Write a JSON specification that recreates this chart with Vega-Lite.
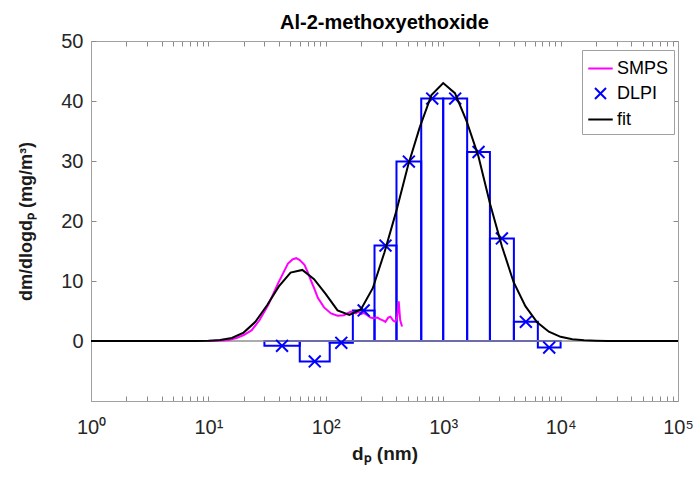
{
  "$schema": "https://vega.github.io/schema/vega-lite/v6.json",
  "width": 587,
  "height": 360,
  "autosize": {"type": "none"},
  "padding": {"left": 91, "top": 41, "right": 21, "bottom": 79},
  "background": "white",
  "title": {"text": "Al-2-methoxyethoxide", "fontSize": 20, "font": "Liberation Sans", "fontWeight": "bold", "color": "#000000", "offset": -2, "anchor": "middle"},
  "config": {"view": {"stroke": null}, "font": "Liberation Sans"},
  "datasets": {
    "smps": [
      {"d": 10, "v": 0.02, "series": "SMPS"}, {"d": 12, "v": 0.05, "series": "SMPS"}, {"d": 14.9, "v": 0.17, "series": "SMPS"},
      {"d": 17.4, "v": 0.5, "series": "SMPS"}, {"d": 20, "v": 1.0, "series": "SMPS"}, {"d": 23.4, "v": 1.8, "series": "SMPS"},
      {"d": 27.3, "v": 3.5, "series": "SMPS"}, {"d": 32.3, "v": 6.0, "series": "SMPS"}, {"d": 39.2, "v": 9.6, "series": "SMPS"},
      {"d": 47.6, "v": 12.9, "series": "SMPS"}, {"d": 52, "v": 13.6, "series": "SMPS"}, {"d": 56, "v": 13.8, "series": "SMPS"},
      {"d": 60, "v": 13.5, "series": "SMPS"}, {"d": 65.8, "v": 12.7, "series": "SMPS"}, {"d": 70, "v": 11.5, "series": "SMPS"},
      {"d": 75, "v": 10.0, "series": "SMPS"}, {"d": 80, "v": 8.7, "series": "SMPS"}, {"d": 85.5, "v": 7.2, "series": "SMPS"},
      {"d": 96.6, "v": 5.6, "series": "SMPS"}, {"d": 110.7, "v": 4.6, "series": "SMPS"}, {"d": 126, "v": 4.2, "series": "SMPS"},
      {"d": 142.5, "v": 4.3, "series": "SMPS"}, {"d": 163.4, "v": 4.9, "series": "SMPS"}, {"d": 180, "v": 4.6, "series": "SMPS"},
      {"d": 190.6, "v": 4.9, "series": "SMPS"}, {"d": 200, "v": 4.5, "series": "SMPS"}, {"d": 210, "v": 4.7, "series": "SMPS"},
      {"d": 226, "v": 4.3, "series": "SMPS"}, {"d": 240, "v": 3.9, "series": "SMPS"}, {"d": 257, "v": 3.8, "series": "SMPS"},
      {"d": 275, "v": 3.9, "series": "SMPS"}, {"d": 292, "v": 3.6, "series": "SMPS"}, {"d": 310, "v": 3.4, "series": "SMPS"},
      {"d": 322, "v": 3.2, "series": "SMPS"}, {"d": 340, "v": 3.9, "series": "SMPS"}, {"d": 355, "v": 4.05, "series": "SMPS"},
      {"d": 375, "v": 3.4, "series": "SMPS"}, {"d": 391, "v": 3.2, "series": "SMPS"}, {"d": 405, "v": 3.9, "series": "SMPS"},
      {"d": 418, "v": 6.6, "series": "SMPS"}, {"d": 430, "v": 3.5, "series": "SMPS"}, {"d": 446, "v": 2.4, "series": "SMPS"}
    ],
    "dlpi": [
      {"lo": 30, "hi": 60, "mid": 42.4, "v": -0.8, "series": "DLPI"},
      {"lo": 60, "hi": 108, "mid": 80.5, "v": -3.4, "series": "DLPI"},
      {"lo": 108, "hi": 170, "mid": 135.5, "v": -0.3, "series": "DLPI"},
      {"lo": 170, "hi": 260, "mid": 210.2, "v": 5.1, "series": "DLPI"},
      {"lo": 260, "hi": 400, "mid": 322.5, "v": 15.9, "series": "DLPI"},
      {"lo": 400, "hi": 650, "mid": 509.9, "v": 29.9, "series": "DLPI"},
      {"lo": 650, "hi": 1000, "mid": 806.2, "v": 40.4, "series": "DLPI"},
      {"lo": 1000, "hi": 1600, "mid": 1264.9, "v": 40.4, "series": "DLPI"},
      {"lo": 1600, "hi": 2500, "mid": 2000, "v": 31.5, "series": "DLPI"},
      {"lo": 2500, "hi": 4000, "mid": 3162, "v": 17.1, "series": "DLPI"},
      {"lo": 4000, "hi": 6400, "mid": 5060, "v": 3.2, "series": "DLPI"},
      {"lo": 6400, "hi": 10000, "mid": 8000, "v": -1.1, "series": "DLPI"}
    ],
    "fit": [
      {"d": 1, "v": 0, "series": "fit"}, {"d": 1.585, "v": 0, "series": "fit"}, {"d": 2.512, "v": 0, "series": "fit"},
      {"d": 3.981, "v": 0, "series": "fit"}, {"d": 5.012, "v": 0, "series": "fit"}, {"d": 6.31, "v": 0, "series": "fit"},
      {"d": 7.943, "v": 0.01, "series": "fit"}, {"d": 10, "v": 0.04, "series": "fit"}, {"d": 12.59, "v": 0.15, "series": "fit"},
      {"d": 15.85, "v": 0.51, "series": "fit"}, {"d": 19.95, "v": 1.41, "series": "fit"}, {"d": 25.12, "v": 3.19, "series": "fit"},
      {"d": 31.62, "v": 5.95, "series": "fit"}, {"d": 39.81, "v": 9.09, "series": "fit"}, {"d": 50.12, "v": 11.41, "series": "fit"},
      {"d": 63.1, "v": 11.85, "series": "fit"}, {"d": 79.43, "v": 10.3, "series": "fit"}, {"d": 100, "v": 7.8, "series": "fit"},
      {"d": 125.9, "v": 5.1, "series": "fit"}, {"d": 158.5, "v": 4.35, "series": "fit"}, {"d": 199.5, "v": 5.3, "series": "fit"},
      {"d": 251.2, "v": 8.8, "series": "fit"}, {"d": 316.2, "v": 14.8, "series": "fit"}, {"d": 398.1, "v": 21.6, "series": "fit"},
      {"d": 501.2, "v": 29.2, "series": "fit"}, {"d": 631, "v": 35.6, "series": "fit"}, {"d": 794.3, "v": 41.0, "series": "fit"},
      {"d": 1000, "v": 43.0, "series": "fit"}, {"d": 1259, "v": 41.3, "series": "fit"}, {"d": 1585, "v": 36.6, "series": "fit"},
      {"d": 1995, "v": 30.8, "series": "fit"}, {"d": 2512, "v": 22.8, "series": "fit"}, {"d": 3162, "v": 15.8, "series": "fit"},
      {"d": 3981, "v": 9.8, "series": "fit"}, {"d": 5012, "v": 5.8, "series": "fit"}, {"d": 6310, "v": 3.1, "series": "fit"},
      {"d": 7943, "v": 1.55, "series": "fit"}, {"d": 10000, "v": 0.7, "series": "fit"}, {"d": 12589, "v": 0.3, "series": "fit"},
      {"d": 15849, "v": 0.11, "series": "fit"}, {"d": 19953, "v": 0.04, "series": "fit"}, {"d": 25119, "v": 0.01, "series": "fit"},
      {"d": 39811, "v": 0, "series": "fit"}, {"d": 100000, "v": 0, "series": "fit"}
    ],
    "base": [{"v": 0}]
  },
  "layer": [
    {
      "data": {"name": "dlpi"},
      "mark": {"type": "rect", "filled": false, "strokeWidth": 2},
      "encoding": {
        "x": {"field": "lo", "type": "quantitative", "scale": {"type": "log", "domain": [1, 100000], "nice": false},
          "axis": {"orient": "bottom", "values": [1,2,3,4,5,6,7,8,9,10,20,30,40,50,60,70,80,90,100,200,300,400,500,600,700,800,900,1000,2000,3000,4000,5000,6000,7000,8000,9000,10000,20000,30000,40000,50000,60000,70000,80000,90000,100000],
            "labelExpr": "indexof([1,10,100,1000,10000,100000], datum.value) >= 0 ? '10' + ['⁰','¹','²','³','⁴','⁵'][indexof([1,10,100,1000,10000,100000], datum.value)] : ''",
            "tickSize": -5, "tickColor": "#8a8a8a", "domainColor": "#a0a0a0", "grid": false,
            "labelFontSize": 20, "labelColor": "#262626", "labelPadding": 21, "labelFlush": false, "labelOverlap": false, "labelFont": "Liberation Sans",
            "title": "dₚ (nm)", "titleFontSize": 19, "titleFontWeight": "bold", "titleColor": "#1a1a1a", "titlePadding": 7, "titleFont": "Liberation Sans"}},
        "x2": {"field": "hi"},
        "y": {"field": "v", "type": "quantitative", "scale": {"domain": [-10, 50], "nice": false},
          "axis": {"orient": "left", "values": [0, 10, 20, 30, 40, 50], "tickSize": -5, "tickColor": "#8a8a8a", "domainColor": "#a0a0a0", "grid": false,
            "labelFontSize": 20, "labelColor": "#262626", "labelPadding": 13, "labelFont": "Liberation Sans",
            "title": "dm/dlogdₚ (mg/m³)", "titleFontSize": 18, "titleFontWeight": "bold", "titleColor": "#1a1a1a", "titlePadding": 25, "titleFont": "Liberation Sans"}},
        "y2": {"datum": 0},
        "color": {"field": "series", "type": "nominal", "scale": {"domain": ["SMPS", "DLPI", "fit"], "range": ["#ff00ff", "#0000ff", "#000000"]},
          "legend": {"title": null, "orient": "none", "legendX": 491, "legendY": 9, "padding": 5, "strokeColor": "#a0a0a0", "fillColor": "white",
            "labelFontSize": 18, "labelColor": "#000000", "labelFont": "Liberation Sans", "symbolSize": 600, "symbolStrokeWidth": 2, "rowPadding": 2, "labelOffset": 3, "symbolFillColor": "transparent"}}
      }
    },
    {
      "data": {"name": "base"},
      "mark": {"type": "rule", "color": "#909090", "strokeWidth": 1.5},
      "encoding": {"y": {"field": "v", "type": "quantitative", "axis": null}}
    },
    {
      "data": {"name": "smps"},
      "mark": {"type": "line", "strokeWidth": 2},
      "encoding": {
        "x": {"field": "d", "type": "quantitative", "axis": null},
        "y": {"field": "v", "type": "quantitative", "axis": null},
        "color": {"field": "series", "type": "nominal"}
      }
    },
    {
      "data": {"name": "dlpi"},
      "mark": {"type": "point", "filled": false, "strokeWidth": 2, "size": 700, "opacity": 1},
      "encoding": {
        "x": {"field": "mid", "type": "quantitative", "axis": null},
        "y": {"field": "v", "type": "quantitative", "axis": null},
        "color": {"field": "series", "type": "nominal"},
        "shape": {"field": "series", "type": "nominal", "scale": {"domain": ["SMPS", "DLPI", "fit"], "range": ["stroke", "M-0.45,-0.45L0.45,0.45M-0.45,0.45L0.45,-0.45", "stroke"]}}
      }
    },
    {
      "data": {"name": "fit"},
      "mark": {"type": "line", "strokeWidth": 2},
      "encoding": {
        "x": {"field": "d", "type": "quantitative",
          "axis": {"orient": "top", "values": [1,2,3,4,5,6,7,8,9,10,20,30,40,50,60,70,80,90,100,200,300,400,500,600,700,800,900,1000,2000,3000,4000,5000,6000,7000,8000,9000,10000,20000,30000,40000,50000,60000,70000,80000,90000,100000],
            "labels": false, "title": null, "tickSize": -5, "tickColor": "#8a8a8a", "domainColor": "#a0a0a0", "grid": false}},
        "y": {"field": "v", "type": "quantitative",
          "axis": {"orient": "right", "values": [-10, 0, 10, 20, 30, 40, 50], "labels": false, "title": null, "tickSize": -5, "tickColor": "#8a8a8a", "domainColor": "#a0a0a0", "grid": false}},
        "color": {"field": "series", "type": "nominal"}
      }
    }
  ],
  "resolve": {"axis": {"x": "independent", "y": "independent"}}
}
